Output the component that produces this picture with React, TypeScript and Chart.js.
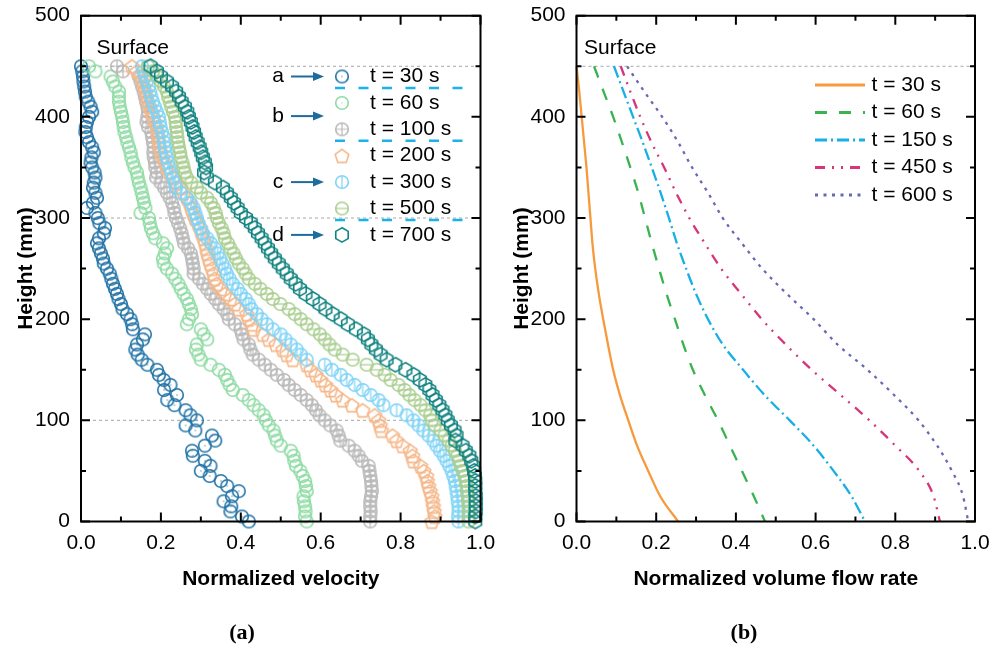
import React, { useEffect, useRef } from "react";
import { Chart, registerables } from "chart.js";
Chart.register(...registerables);

// ---------- DATA ----------
const heightsA = [450,445,440,435,430,425,420,415,410,405,400,395,390,385,380,375,370,365,360,355,350,345,340,335,330,325,320,315,310,305,300,295,290,285,280,275,270,265,260,255,250,245,240,235,230,225,220,215,210,205,200,195,190,185,180,175,170,165,160,155,150,145,140,135,130,125,120,115,110,105,100,95,90,85,80,75,70,65,60,55,50,45,40,35,30,25,20,15,10,5,0];

const vel30 = [
  0.000,0.003,0.005,0.006,0.008,0.010,0.012,0.018,0.024,0.028,
  0.020,0.015,0.012,0.011,0.015,0.020,0.028,0.032,0.026,0.024,
  0.028,0.034,0.036,0.032,0.030,0.036,0.040,0.030,0.015,0.036,
  0.042,0.046,0.060,0.057,0.045,0.040,0.045,0.050,0.055,0.057,
  0.065,0.072,0.076,0.080,0.085,0.090,0.094,0.100,0.104,0.115,
  0.124,0.128,0.130,0.160,0.155,0.140,0.136,0.142,0.152,0.166,
  0.190,0.195,0.207,0.224,0.208,0.240,0.216,0.234,0.262,0.274,
  0.290,0.262,0.286,0.328,0.336,0.310,0.278,0.280,0.310,0.324,
  0.300,0.322,0.350,0.366,0.395,0.378,0.357,0.376,0.374,0.403,
  0.420];
const vel60 = [
  0.020,0.036,0.074,0.080,0.086,0.095,0.095,0.095,0.097,0.100,
  0.103,0.105,0.107,0.109,0.113,0.116,0.120,0.124,0.126,0.130,
  0.134,0.140,0.142,0.145,0.149,0.152,0.155,0.158,0.161,0.149,
  0.170,0.172,0.175,0.180,0.186,0.205,0.215,0.210,0.205,0.207,
  0.215,0.228,0.236,0.244,0.250,0.257,0.265,0.270,0.275,0.278,
  0.270,0.265,0.300,0.307,0.316,0.290,0.288,0.294,0.300,0.324,
  0.345,0.360,0.366,0.372,0.380,0.405,0.420,0.432,0.445,0.457,
  0.463,0.470,0.482,0.486,0.490,0.500,0.525,0.532,0.534,0.538,
  0.549,0.555,0.561,0.563,0.565,0.557,0.558,0.561,0.562,0.561,
  0.565];
const vel100 = [
  0.090,0.105,0.145,0.149,0.153,0.157,0.160,0.163,0.166,0.168,
  0.166,0.164,0.168,0.176,0.178,0.180,0.182,0.181,0.182,0.185,
  0.186,0.190,0.188,0.199,0.208,0.215,0.222,0.228,0.232,0.234,
  0.238,0.243,0.248,0.252,0.255,0.258,0.268,0.275,0.278,0.280,
  0.282,0.282,0.295,0.305,0.316,0.325,0.336,0.345,0.357,0.366,
  0.370,0.385,0.399,0.403,0.407,0.420,0.424,0.430,0.445,0.460,
  0.475,0.490,0.508,0.520,0.535,0.550,0.565,0.578,0.588,0.597,
  0.610,0.624,0.640,0.645,0.649,0.670,0.685,0.695,0.703,0.720,
  0.722,0.724,0.726,0.727,0.728,0.726,0.724,0.724,0.725,0.724,
  0.724];
const vel200 = [
  0.128,0.140,0.150,0.155,0.158,0.162,0.165,0.168,0.172,0.176,
  0.180,0.185,0.190,0.192,0.194,0.195,0.197,0.200,0.205,0.210,
  0.215,0.222,0.232,0.240,0.250,0.257,0.265,0.272,0.276,0.280,
  0.285,0.292,0.299,0.302,0.307,0.311,0.314,0.316,0.320,0.323,
  0.328,0.332,0.335,0.340,0.350,0.360,0.374,0.385,0.395,0.415,
  0.420,0.428,0.432,0.455,0.470,0.488,0.505,0.515,0.530,0.565,
  0.575,0.588,0.600,0.612,0.625,0.638,0.655,0.678,0.705,0.735,
  0.745,0.749,0.752,0.780,0.790,0.805,0.824,0.830,0.832,0.850,
  0.858,0.865,0.867,0.870,0.874,0.878,0.880,0.882,0.884,0.886,
  0.878];
const vel300 = [
  0.153,0.157,0.161,0.165,0.170,0.173,0.176,0.180,0.185,0.190,
  0.195,0.197,0.199,0.203,0.207,0.208,0.210,0.212,0.215,0.218,
  0.222,0.226,0.230,0.235,0.238,0.250,0.265,0.275,0.282,0.286,
  0.290,0.294,0.299,0.305,0.316,0.325,0.335,0.342,0.348,0.354,
  0.360,0.365,0.372,0.380,0.392,0.400,0.412,0.420,0.427,0.440,
  0.452,0.465,0.480,0.500,0.512,0.525,0.540,0.550,0.565,0.610,
  0.628,0.650,0.665,0.685,0.705,0.725,0.745,0.757,0.790,0.815,
  0.832,0.845,0.857,0.870,0.882,0.890,0.899,0.908,0.915,0.922,
  0.928,0.932,0.936,0.938,0.940,0.942,0.943,0.945,0.945,0.944,
  0.945];
const vel500 = [
  0.168,0.180,0.190,0.200,0.208,0.215,0.218,0.222,0.226,0.230,
  0.235,0.237,0.238,0.240,0.241,0.243,0.245,0.248,0.250,0.254,
  0.257,0.260,0.265,0.276,0.290,0.300,0.316,0.325,0.332,0.337,
  0.340,0.345,0.352,0.357,0.360,0.368,0.374,0.382,0.388,0.395,
  0.405,0.412,0.420,0.435,0.449,0.465,0.480,0.499,0.520,0.535,
  0.550,0.565,0.582,0.598,0.610,0.622,0.635,0.655,0.680,0.715,
  0.740,0.760,0.775,0.795,0.810,0.822,0.835,0.850,0.862,0.874,
  0.878,0.885,0.900,0.910,0.920,0.928,0.936,0.942,0.947,0.950,
  0.955,0.960,0.963,0.965,0.966,0.968,0.969,0.970,0.970,0.970,
  0.970];
const vel700 = [
  0.174,0.190,0.200,0.215,0.228,0.238,0.245,0.252,0.260,0.266,
  0.270,0.275,0.279,0.283,0.287,0.292,0.297,0.301,0.305,0.310,
  0.313,0.308,0.315,0.335,0.355,0.365,0.375,0.383,0.392,0.400,
  0.413,0.425,0.435,0.443,0.452,0.460,0.468,0.476,0.485,0.495,
  0.505,0.515,0.525,0.537,0.548,0.562,0.580,0.597,0.612,0.630,
  0.650,0.668,0.688,0.708,0.718,0.727,0.738,0.750,0.765,0.787,
  0.812,0.832,0.848,0.862,0.872,0.880,0.888,0.897,0.905,0.912,
  0.918,0.926,0.935,0.940,0.937,0.955,0.963,0.972,0.977,0.982,
  0.984,0.986,0.987,0.987,0.987,0.988,0.988,0.988,0.988,0.987,
  0.987];

const velSeries = [vel30, vel60, vel100, vel200, vel300, vel500, vel700];
const velLabels = ["t = 30 s", "t = 60 s", "t = 100 s", "t = 200 s", "t = 300 s", "t = 500 s", "t = 700 s"];
const groupLabels = ["a", "b", "c", "d"];
const guideLeft = [100, 300, 450];

const heightsB = [450,425,400,375,350,325,300,275,250,225,200,175,150,125,100,75,50,25,0];
const flow30 = [0,0.007,0.013,0.019,0.025,0.030,0.035,0.040,0.047,0.056,0.067,0.079,0.092,0.109,0.13,0.152,0.18,0.21,0.255];
const flow60 = [0.044,0.068,0.092,0.114,0.135,0.155,0.172,0.189,0.207,0.226,0.247,0.268,0.292,0.322,0.355,0.385,0.415,0.445,0.473];
const flow150 = [0.094,0.118,0.142,0.166,0.189,0.211,0.232,0.252,0.275,0.300,0.33,0.367,0.418,0.472,0.535,0.595,0.645,0.69,0.724];
const flow450 = [0.111,0.135,0.16,0.188,0.22,0.25,0.283,0.322,0.363,0.413,0.465,0.525,0.59,0.663,0.735,0.8,0.86,0.896,0.912];
const flow600 = [0.127,0.17,0.215,0.255,0.29,0.33,0.367,0.415,0.466,0.528,0.595,0.655,0.73,0.797,0.858,0.905,0.942,0.97,0.983];
const flowSeries = [flow30, flow60, flow150, flow450, flow600];
const flowLabels = ["t = 30 s", "t = 60 s", "t = 150 s", "t = 450 s", "t = 600 s"];
const guideRight = [450];

const surfaceLabel = "Surface";
const panelLabels = ["(a)", "(b)"];
const xTitles = ["Normalized velocity", "Normalized volume flow rate"];
const yTitle = "Height (mm)";

// ---------- STYLES ----------
const FONT = "'Liberation Sans', Arial, Helvetica, sans-serif";
const velColors = ["#2273a6", "#8edba3", "#b9b9b9", "#f5b88b", "#7ed3f6", "#a9ce8f", "#0e827f"];
const velKinds = ["dot", "dot", "plus", "pent", "vline", "hline", "hex"];
const flowColors = ["#f7993d", "#38b34f", "#17afe6", "#d6357a", "#6868b4"];
const flowDash: number[][] = [[], [12, 12], [12, 4, 2, 4], [10, 7, 2, 7, 2, 7], [3, 5.5]];

function makeMarker(kind: string, color: string): HTMLCanvasElement {
  const s = 20;
  const c = document.createElement("canvas");
  c.width = s; c.height = s;
  const ctx = c.getContext("2d")!;
  const m = s / 2;
  ctx.strokeStyle = color;
  ctx.fillStyle = color;
  ctx.lineWidth = 1.6;
  ctx.beginPath();
  if (kind === "pent" || kind === "hex") {
    const n = kind === "pent" ? 5 : 6;
    const r = 7.2;
    for (let i = 0; i < n; i++) {
      const a = -Math.PI / 2 + (i * 2 * Math.PI) / n;
      const px = m + r * Math.cos(a);
      const py = m + r * Math.sin(a) + (kind === "pent" ? 0.8 : 0);
      if (i === 0) ctx.moveTo(px, py); else ctx.lineTo(px, py);
    }
    ctx.closePath();
  } else {
    ctx.arc(m, m, 6.3, 0, Math.PI * 2);
  }
  ctx.stroke();
  const r = 6.3;
  if (kind === "dot") {
    ctx.globalAlpha = 0.6;
    ctx.fillRect(m - 0.7, m - 0.7, 1.4, 1.4);
    ctx.globalAlpha = 1;
  } else if (kind === "plus") {
    ctx.lineWidth = 1.2;
    ctx.beginPath();
    ctx.moveTo(m - r, m); ctx.lineTo(m + r, m);
    ctx.moveTo(m, m - r); ctx.lineTo(m, m + r);
    ctx.stroke();
  } else if (kind === "vline") {
    ctx.lineWidth = 1.2;
    ctx.beginPath();
    ctx.moveTo(m, m - r); ctx.lineTo(m, m + r);
    ctx.stroke();
  } else if (kind === "hline") {
    ctx.lineWidth = 1.2;
    ctx.beginPath();
    ctx.moveTo(m - r, m); ctx.lineTo(m + r, m);
    ctx.stroke();
  }
  return c;
}

function framePlugin() {
  return {
    id: "frame",
    afterDatasetsDraw(chart: any) {
      const { ctx, chartArea, scales } = chart;
      const { left, right, top, bottom } = chartArea;
      const x = scales.x, y = scales.y;
      ctx.save();
      ctx.strokeStyle = "#000";
      ctx.lineWidth = 2;
      ctx.lineCap = "butt";
      ctx.beginPath();
      ctx.rect(left, top, right - left, bottom - top);
      ctx.stroke();
      ctx.beginPath();
      for (let v = y.min; v <= y.max + 1e-6; v += 50) {
        const py = y.getPixelForValue(v);
        const L = Math.round(v) % 100 === 0 ? 9 : 5;
        ctx.moveTo(left, py); ctx.lineTo(left + L, py);
        ctx.moveTo(right, py); ctx.lineTo(right - L, py);
      }
      for (let i = 0; i <= 10; i++) {
        const px = x.getPixelForValue(i / 10);
        const L = i % 2 === 0 ? 9 : 5;
        ctx.moveTo(px, bottom); ctx.lineTo(px, bottom - L);
        ctx.moveTo(px, top); ctx.lineTo(px, top + L);
      }
      ctx.stroke();
      ctx.restore();
    },
  };
}

function decoPlugin(panel: string, panelX: number, surfaceX: number) {
  return {
    id: "deco",
    afterDraw(chart: any) {
      const { ctx } = chart;
      ctx.save();
      ctx.fillStyle = "#000";
      ctx.font = `21px ${FONT}`;
      ctx.textAlign = "left";
      ctx.textBaseline = "middle";
      ctx.fillText(surfaceLabel, surfaceX, 48);
      ctx.font = `bold 22px 'Liberation Serif', 'Times New Roman', serif`;
      ctx.textAlign = "center";
      ctx.fillText(panel, panelX, 633);
      ctx.restore();
    },
  };
}

function legendLeftPlugin(markers: HTMLCanvasElement[]) {
  return {
    id: "legendLeft",
    afterDraw(chart: any) {
      const { ctx } = chart;
      ctx.save();
      const rowY = (i: number) => 76.5 + i * 26.4;
      ctx.font = `21px ${FONT}`;
      ctx.fillStyle = "#000";
      ctx.textBaseline = "middle";
      ctx.textAlign = "left";
      velLabels.forEach((lab, i) => {
        const m = markers[i];
        ctx.drawImage(m, 342 - m.width / 2, rowY(i) - m.height / 2);
        ctx.fillText(lab, 370, rowY(i));
      });
      ctx.strokeStyle = "#1ab2e8";
      ctx.lineWidth = 2.6;
      ctx.setLineDash([10, 13.5]);
      [0, 2, 5].forEach((r) => {
        const yy = rowY(r) + 11.5;
        ctx.beginPath();
        ctx.moveTo(335, yy); ctx.lineTo(465, yy);
        ctx.stroke();
      });
      ctx.setLineDash([]);
      const groupRows = [0, 1.5, 4, 6];
      groupLabels.forEach((g, k) => {
        const yy = rowY(groupRows[k]);
        ctx.fillStyle = "#000";
        ctx.textAlign = "center";
        ctx.fillText(g, 278, yy);
        ctx.strokeStyle = "#1d6d9c";
        ctx.fillStyle = "#1d6d9c";
        ctx.lineWidth = 2;
        ctx.beginPath();
        ctx.moveTo(291, yy); ctx.lineTo(315, yy);
        ctx.stroke();
        ctx.beginPath();
        ctx.moveTo(324, yy); ctx.lineTo(313, yy - 4.5); ctx.lineTo(313, yy + 4.5);
        ctx.closePath();
        ctx.fill();
      });
      ctx.restore();
    },
  };
}

function legendRightPlugin() {
  return {
    id: "legendRight",
    afterDraw(chart: any) {
      const { ctx } = chart;
      ctx.save();
      ctx.font = `21px ${FONT}`;
      ctx.textBaseline = "middle";
      ctx.textAlign = "left";
      flowLabels.forEach((lab, i) => {
        const yy = 85 + i * 27.5;
        ctx.strokeStyle = flowColors[i];
        ctx.lineWidth = 3;
        ctx.setLineDash(flowDash[i]);
        ctx.beginPath();
        ctx.moveTo(319, yy); ctx.lineTo(369, yy);
        ctx.stroke();
        ctx.setLineDash([]);
        ctx.fillStyle = "#000";
        ctx.fillText(lab, 375.5, yy);
      });
      ctx.restore();
    },
  };
}

function baseScales(xTitle: string, yWidth: number) {
  return {
    x: {
      type: "linear",
      min: 0,
      max: 1,
      ticks: {
        stepSize: 0.2,
        padding: 9,
        color: "#000",
        font: { size: 21, family: FONT },
        callback: (v: number) => Number(v).toFixed(1),
      },
      grid: { display: false, drawTicks: false },
      border: { display: false },
      title: {
        display: true,
        text: xTitle,
        color: "#000",
        font: { size: 21, weight: "bold", family: FONT },
        padding: { top: 0, bottom: 58 },
      },
      afterFit: (s: any) => {
        s.height = 128.5;
        s.paddingLeft = 0; s.paddingRight = 0; s.paddingTop = 0; s.paddingBottom = 0;
      },
    },
    y: {
      type: "linear",
      min: 0,
      max: 500,
      ticks: {
        stepSize: 100,
        padding: 11,
        color: "#000",
        font: { size: 21, family: FONT },
      },
      grid: { display: false, drawTicks: false },
      border: { display: false },
      title: {
        display: true,
        text: yTitle,
        color: "#000",
        font: { size: 21, weight: "bold", family: FONT },
        padding: { top: 14, bottom: 0 },
      },
      afterFit: (s: any) => {
        s.width = yWidth;
        s.paddingLeft = 0; s.paddingRight = 0; s.paddingTop = 0; s.paddingBottom = 0;
      },
    },
  };
}

function guideDatasets(levels: number[]) {
  return levels.map((h) => ({
    label: "guide",
    data: [{ x: 0, y: h }, { x: 1, y: h }],
    showLine: true,
    borderColor: "#a8a8a8",
    borderWidth: 1,
    borderDash: [3, 3],
    pointRadius: 0,
    order: 100,
    clip: false,
  }));
}

export default function App() {
  const leftRef = useRef<HTMLCanvasElement>(null);
  const rightRef = useRef<HTMLCanvasElement>(null);

  useEffect(() => {
    Chart.defaults.font.family = FONT;
    Chart.defaults.color = "#000";
    const markers = velKinds.map((k, i) => makeMarker(k, velColors[i]));

    const leftDatasets: any[] = velSeries.map((vals, i) => ({
      label: velLabels[i],
      data: heightsA.slice(0, vals.length).map((h, j) => ({ x: vals[j], y: h })),
      pointStyle: markers[i],
      pointRadius: 6,
      showLine: false,
      order: 10 - i,
      clip: false,
    }));

    const left = new Chart(leftRef.current!, {
      type: "scatter",
      data: { datasets: [...guideDatasets(guideLeft), ...leftDatasets] },
      options: {
        animation: false,
        responsive: true,
        maintainAspectRatio: false,
        events: [],
        layout: { padding: { left: 0, right: 15.5, top: 15.7, bottom: 0 } },
        plugins: { legend: { display: false }, tooltip: { enabled: false }, title: { display: false } },
        scales: baseScales(xTitles[0], 81) as any,
      },
      plugins: [framePlugin(), decoPlugin(panelLabels[0], 242, 96.5), legendLeftPlugin(markers)],
    });

    const rightDatasets: any[] = flowSeries.map((vals, i) => ({
      label: flowLabels[i],
      data: heightsB.slice(0, vals.length).map((h, j) => ({ x: vals[j], y: h })),
      showLine: true,
      borderColor: flowColors[i],
      borderWidth: 2.3,
      borderDash: flowDash[i],
      pointRadius: 0,
      cubicInterpolationMode: "monotone",
      order: 10 - i,
      clip: false,
    }));

    const right = new Chart(rightRef.current!, {
      type: "scatter",
      data: { datasets: [...guideDatasets(guideRight), ...rightDatasets] },
      options: {
        animation: false,
        responsive: true,
        maintainAspectRatio: false,
        events: [],
        layout: { padding: { left: 0, right: 17, top: 15.7, bottom: 0 } },
        plugins: { legend: { display: false }, tooltip: { enabled: false }, title: { display: false } },
        scales: baseScales(xTitles[1], 80.5) as any,
      },
      plugins: [framePlugin(), decoPlugin(panelLabels[1], 248, 88), legendRightPlugin()],
    });

    return () => {
      left.destroy();
      right.destroy();
    };
  }, []);

  return (
    <div style={{ position: "absolute", left: 0, top: 0, width: 992, height: 650, background: "#fff" }}>
      <div style={{ position: "absolute", left: 0, top: 0, width: 496, height: 650 }}>
        <canvas ref={leftRef} />
      </div>
      <div style={{ position: "absolute", left: 496, top: 0, width: 496, height: 650 }}>
        <canvas ref={rightRef} />
      </div>
    </div>
  );
}
